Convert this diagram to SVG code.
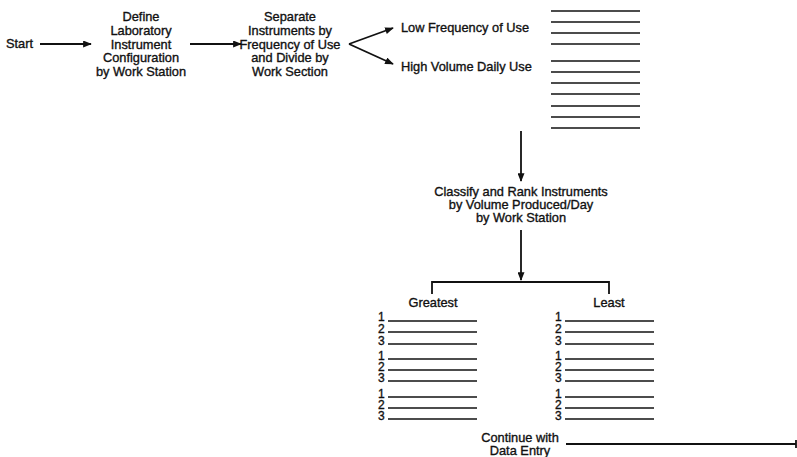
<svg xmlns="http://www.w3.org/2000/svg" width="797" height="457" viewBox="0 0 797 457">
  <style>
    text { font-family: "Liberation Sans", Arial, sans-serif; font-size: 12.8px; fill: #111; stroke: #111; stroke-width: 0.35px; }
    .c { text-anchor: middle; }
    .n { font-size: 12px; }
    .conn { stroke: #111; stroke-width: 1.8; fill: none; }
    .rule { stroke: #111; stroke-width: 1.7; }
  </style>
  <defs>
    <marker id="head" viewBox="0 0 10 8" refX="9" refY="4" markerWidth="9" markerHeight="7" markerUnits="userSpaceOnUse" orient="auto">
      <path d="M0,0 L10,4 L0,8 z" fill="#111"/>
    </marker>
  </defs>

  <rect width="797" height="457" fill="#fff"/>

  <g id="start">
    <text x="6" y="48">Start</text>
  </g>

  <g id="define">
    <text class="c" x="141" y="21">Define</text>
    <text class="c" x="141" y="35">Laboratory</text>
    <text class="c" x="141" y="49">Instrument</text>
    <text class="c" x="141" y="62">Configuration</text>
    <text class="c" x="141" y="76">by Work Station</text>
  </g>

  <g id="separate">
    <text class="c" x="290" y="21">Separate</text>
    <text class="c" x="290" y="35">Instruments by</text>
    <text class="c" x="290" y="49">Frequency of Use</text>
    <text class="c" x="290" y="62">and Divide by</text>
    <text class="c" x="290" y="76">Work Section</text>
  </g>

  <g id="low-frequency">
    <text x="401" y="32">Low Frequency of Use</text>
  </g>

  <g id="high-volume">
    <text x="401" y="71">High Volume Daily Use</text>
  </g>

  <g id="instrument-list">
    <line class="rule" x1="551" y1="11" x2="640" y2="11"/>
    <line class="rule" x1="551" y1="22" x2="640" y2="22"/>
    <line class="rule" x1="551" y1="33" x2="640" y2="33"/>
    <line class="rule" x1="551" y1="44" x2="640" y2="44"/>
    <line class="rule" x1="551" y1="61" x2="640" y2="61"/>
    <line class="rule" x1="551" y1="72" x2="640" y2="72"/>
    <line class="rule" x1="551" y1="83" x2="640" y2="83"/>
    <line class="rule" x1="551" y1="94" x2="640" y2="94"/>
    <line class="rule" x1="551" y1="106" x2="640" y2="106"/>
    <line class="rule" x1="551" y1="117" x2="640" y2="117"/>
    <line class="rule" x1="551" y1="128" x2="640" y2="128"/>
  </g>

  <g id="classify">
    <text class="c" x="521" y="196">Classify and Rank Instruments</text>
    <text class="c" x="521" y="209">by Volume Produced/Day</text>
    <text class="c" x="521" y="222">by Work Station</text>
  </g>

  <g id="greatest">
    <text class="c" x="433" y="307">Greatest</text>
    <g class="n">
      <text class="n" x="378" y="321">1</text>
      <text class="n" x="378" y="333">2</text>
      <text class="n" x="378" y="345">3</text>
      <text class="n" x="378" y="360">1</text>
      <text class="n" x="378" y="371">2</text>
      <text class="n" x="378" y="382">3</text>
      <text class="n" x="378" y="398">1</text>
      <text class="n" x="378" y="409">2</text>
      <text class="n" x="378" y="420">3</text>
    </g>
    <line class="rule" x1="388" y1="321" x2="477" y2="321"/>
    <line class="rule" x1="388" y1="332" x2="477" y2="332"/>
    <line class="rule" x1="388" y1="344" x2="477" y2="344"/>
    <line class="rule" x1="388" y1="359" x2="477" y2="359"/>
    <line class="rule" x1="388" y1="370" x2="477" y2="370"/>
    <line class="rule" x1="388" y1="381" x2="477" y2="381"/>
    <line class="rule" x1="388" y1="397" x2="477" y2="397"/>
    <line class="rule" x1="388" y1="408" x2="477" y2="408"/>
    <line class="rule" x1="388" y1="419" x2="477" y2="419"/>
  </g>

  <g id="least">
    <text class="c" x="609" y="307">Least</text>
    <g class="n">
      <text class="n" x="555" y="321">1</text>
      <text class="n" x="555" y="333">2</text>
      <text class="n" x="555" y="345">3</text>
      <text class="n" x="555" y="360">1</text>
      <text class="n" x="555" y="371">2</text>
      <text class="n" x="555" y="382">3</text>
      <text class="n" x="555" y="398">1</text>
      <text class="n" x="555" y="409">2</text>
      <text class="n" x="555" y="420">3</text>
    </g>
    <line class="rule" x1="565" y1="321" x2="654" y2="321"/>
    <line class="rule" x1="565" y1="332" x2="654" y2="332"/>
    <line class="rule" x1="565" y1="344" x2="654" y2="344"/>
    <line class="rule" x1="565" y1="359" x2="654" y2="359"/>
    <line class="rule" x1="565" y1="370" x2="654" y2="370"/>
    <line class="rule" x1="565" y1="381" x2="654" y2="381"/>
    <line class="rule" x1="565" y1="397" x2="654" y2="397"/>
    <line class="rule" x1="565" y1="408" x2="654" y2="408"/>
    <line class="rule" x1="565" y1="419" x2="654" y2="419"/>
  </g>

  <g id="continue">
    <text class="c" x="520" y="442">Continue with</text>
    <text class="c" x="520" y="455">Data Entry</text>
  </g>

  <g id="connectors">
    <line class="conn" x1="40" y1="44" x2="91" y2="44" marker-end="url(#head)"/>
    <line class="conn" x1="190" y1="44" x2="241" y2="44" marker-end="url(#head)"/>
    <line class="conn" x1="349" y1="44" x2="393" y2="28" marker-end="url(#head)"/>
    <line class="conn" x1="349" y1="44" x2="393" y2="64" marker-end="url(#head)"/>
    <line class="conn" x1="521" y1="131" x2="521" y2="181" marker-end="url(#head)"/>
    <line class="conn" x1="521" y1="230" x2="521" y2="280" marker-end="url(#head)"/>
    <path class="conn" d="M432,294 V282 H609 V294"/>
    <line class="conn" x1="566" y1="444" x2="796" y2="444"/>
    <line class="conn" x1="796" y1="440" x2="796" y2="448"/>
  </g>
</svg>
